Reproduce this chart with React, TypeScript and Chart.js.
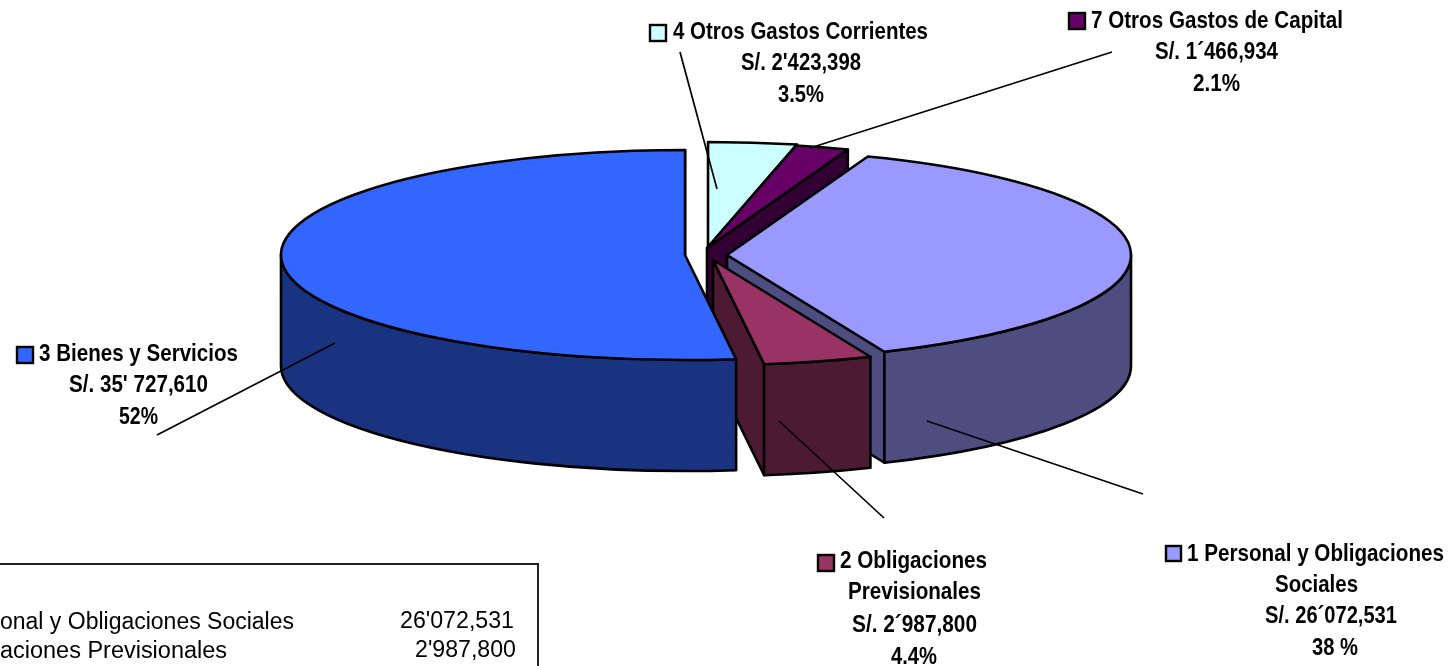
import React, { useEffect, useRef } from "react";
import { Chart, registerables } from "chart.js";

Chart.register(...registerables);

const categories = [
  "1 Personal y Obligaciones Sociales",
  "2 Obligaciones Previsionales",
  "3 Bienes y Servicios",
  "4 Otros Gastos Corrientes",
  "7 Otros Gastos de Capital",
];
const amounts = [26072531, 2987800, 35727610, 2423398, 1466934];
const topColors = ["#9999FF", "#993366", "#3366FF", "#CCFFFF", "#660066"];
const wallColors = ["#4D4D80", "#4D1A33", "#1A3380", "#668080", "#330033"];
const explodeX = [21, 7, -21, 2, 1];
const explodeY = [0, 5, 0, -8, -7];
const paintOrder = [3, 4, 0, 1, 2];

const FONT = '"Liberation Sans", Arial, sans-serif';
const TILT = 0.26;
const DEPTH = 111;

// [text, left, right, vertical middle]
const captionLines: [string, number, number, number][] = [
  ["4 Otros Gastos Corrientes", 673, 928, 32],
  ["S/. 2'423,398", 741, 861, 63],
  ["3.5%", 778, 824, 95],
  ["7 Otros Gastos de Capital", 1091, 1343, 21],
  ["S/. 1´466,934", 1155, 1278, 52],
  ["2.1%", 1193, 1240, 84],
  ["3 Bienes y Servicios", 39, 238, 354],
  ["S/. 35' 727,610", 69, 208, 385],
  ["52%", 119, 158, 417],
  ["2 Obligaciones", 840, 987, 561],
  ["Previsionales", 848, 981, 592],
  ["S/. 2´987,800", 852, 977, 625],
  ["4.4%", 891, 937, 657],
  ["1 Personal y Obligaciones", 1187, 1444, 554],
  ["Sociales", 1275, 1358, 585],
  ["S/. 26´072,531", 1265, 1397, 616],
  ["38 %", 1312, 1358, 648],
];
// slice index, left, top, size
const keySquares: [number, number, number, number][] = [
  [3, 650, 25, 16],
  [4, 1069, 13, 16],
  [2, 17, 347, 16],
  [1, 818, 555, 16],
  [0, 1166, 546, 15],
];
const leaders: [number, number, number, number][] = [
  [680, 52, 717, 189],
  [1112, 52, 810, 148],
  [157, 435, 335, 343],
  [884, 518, 779, 421],
  [1143, 494, 927, 421],
];
const tableRows: [string, number, number, number][] = [
  ["onal y Obligaciones Sociales", 0, 294, 623],
  ["aciones Previsionales", 0, 227, 652],
  ["26'072,531", 400, 514, 622],
  ["2'987,800", 415, 516, 651],
];

function fitText(ctx: CanvasRenderingContext2D, text: string, left: number, right: number, mid: number, font: string) {
  ctx.save();
  ctx.font = font;
  ctx.textAlign = "left";
  ctx.textBaseline = "middle";
  ctx.fillStyle = "#000";
  const w = ctx.measureText(text).width;
  ctx.translate(left, mid);
  ctx.scale((right - left) / w, 1);
  ctx.fillText(text, 0, 0);
  ctx.restore();
}

const pie3d = {
  id: "pie3d",
  beforeDatasetDraw(chart: any) {
    const ctx: CanvasRenderingContext2D = chart.ctx;
    const arcs: any[] = chart.getDatasetMeta(0).data;
    const geo = arcs.map((arc, i) => {
      const { x, y, startAngle, endAngle, outerRadius } = arc;
      return {
        cx: x + explodeX[i],
        cy: y + explodeY[i],
        a: startAngle,
        b: endAngle,
        r: outerRadius,
        ox: x,
        oy: y,
      };
    });
    const ellipse = (g: any, from: number, to: number, dy: number, ccw = false) => {
      ctx.ellipse(g.cx, g.cy + dy, g.r, g.r * TILT, 0, from, to, ccw);
    };
    const rim = (g: any, t: number): [number, number] => [
      g.cx + Math.cos(t) * g.r,
      g.cy + Math.sin(t) * g.r * TILT,
    ];

    ctx.save();
    ctx.lineWidth = 2.6;
    ctx.lineJoin = "round";
    ctx.strokeStyle = "#000";

    const face = (g: any, t: number, color: string) => {
      const p = rim(g, t);
      ctx.beginPath();
      ctx.moveTo(g.cx, g.cy);
      ctx.lineTo(p[0], p[1]);
      ctx.lineTo(p[0], p[1] + DEPTH);
      ctx.lineTo(g.cx, g.cy + DEPTH);
      ctx.closePath();
      ctx.fillStyle = color;
      ctx.fill();
      ctx.stroke();
    };

    // Extruded side: cut faces that look at the viewer, then the curved wall.
    paintOrder.forEach((i) => {
      const g = geo[i];
      if (Math.cos(g.a) < -1e-6) face(g, g.a, wallColors[i]);
      if (Math.cos(g.b) > 1e-6) face(g, g.b, wallColors[i]);
      const from = Math.max(g.a, 0);
      const to = Math.min(g.b, Math.PI);
      if (to > from) {
        ctx.beginPath();
        ellipse(g, from, to, 0);
        ellipse(g, to, from, DEPTH, true);
        ctx.closePath();
        ctx.fillStyle = wallColors[i];
        ctx.fill();
        ctx.stroke();
      }
    });

    // Top faces: the library's own arc, flattened, then outlined.
    arcs.forEach((arc, i) => {
      const g = geo[i];
      ctx.save();
      ctx.translate(g.cx, g.cy);
      ctx.scale(1, TILT);
      ctx.translate(-g.ox, -g.oy);
      arc.draw(ctx);
      ctx.restore();
      ctx.beginPath();
      ctx.moveTo(g.cx, g.cy);
      ellipse(g, g.a, g.b, 0);
      ctx.closePath();
      ctx.stroke();
    });
    ctx.restore();
    return false;
  },
  afterDraw(chart: any) {
    const ctx: CanvasRenderingContext2D = chart.ctx;
    ctx.save();
    ctx.strokeStyle = "#000";
    ctx.lineWidth = 1.7;
    leaders.forEach(([x1, y1, x2, y2]) => {
      ctx.beginPath();
      ctx.moveTo(x1, y1);
      ctx.lineTo(x2, y2);
      ctx.stroke();
    });
    keySquares.forEach(([i, x, y, s]) => {
      ctx.fillStyle = topColors[i];
      ctx.lineWidth = 2.4;
      ctx.fillRect(x, y, s, s);
      ctx.strokeRect(x, y, s, s);
    });
    captionLines.forEach(([t, l, r, m]) => fitText(ctx, t, l, r, m, `bold 24px ${FONT}`));

    ctx.lineWidth = 2;
    ctx.strokeStyle = "#222";
    ctx.beginPath();
    ctx.moveTo(0, 564);
    ctx.lineTo(538, 564);
    ctx.lineTo(538, 666);
    ctx.stroke();
    tableRows.forEach(([t, l, r, m]) => fitText(ctx, t, l, r, m, `23px ${FONT}`));
    ctx.restore();
  },
};

export default function App() {
  const ref = useRef<HTMLCanvasElement>(null);
  useEffect(() => {
    document.body.style.margin = "0";
    const chart = new Chart(ref.current!, {
      type: "pie",
      data: {
        labels: categories,
        datasets: [{ data: amounts, backgroundColor: topColors, borderWidth: 0 }],
      },
      options: {
        responsive: false,
        animation: false,
        rotation: 20.4,
        radius: 404,
        layout: { padding: { left: 0, top: 0, right: 38, bottom: 156 } },
        plugins: { legend: { display: false }, tooltip: { enabled: false }, title: { display: false } },
      },
      plugins: [pie3d],
    } as any);
    return () => chart.destroy();
  }, []);
  return <canvas ref={ref} width={1450} height={666} style={{ display: "block", width: 1450, height: 666 }} />;
}
